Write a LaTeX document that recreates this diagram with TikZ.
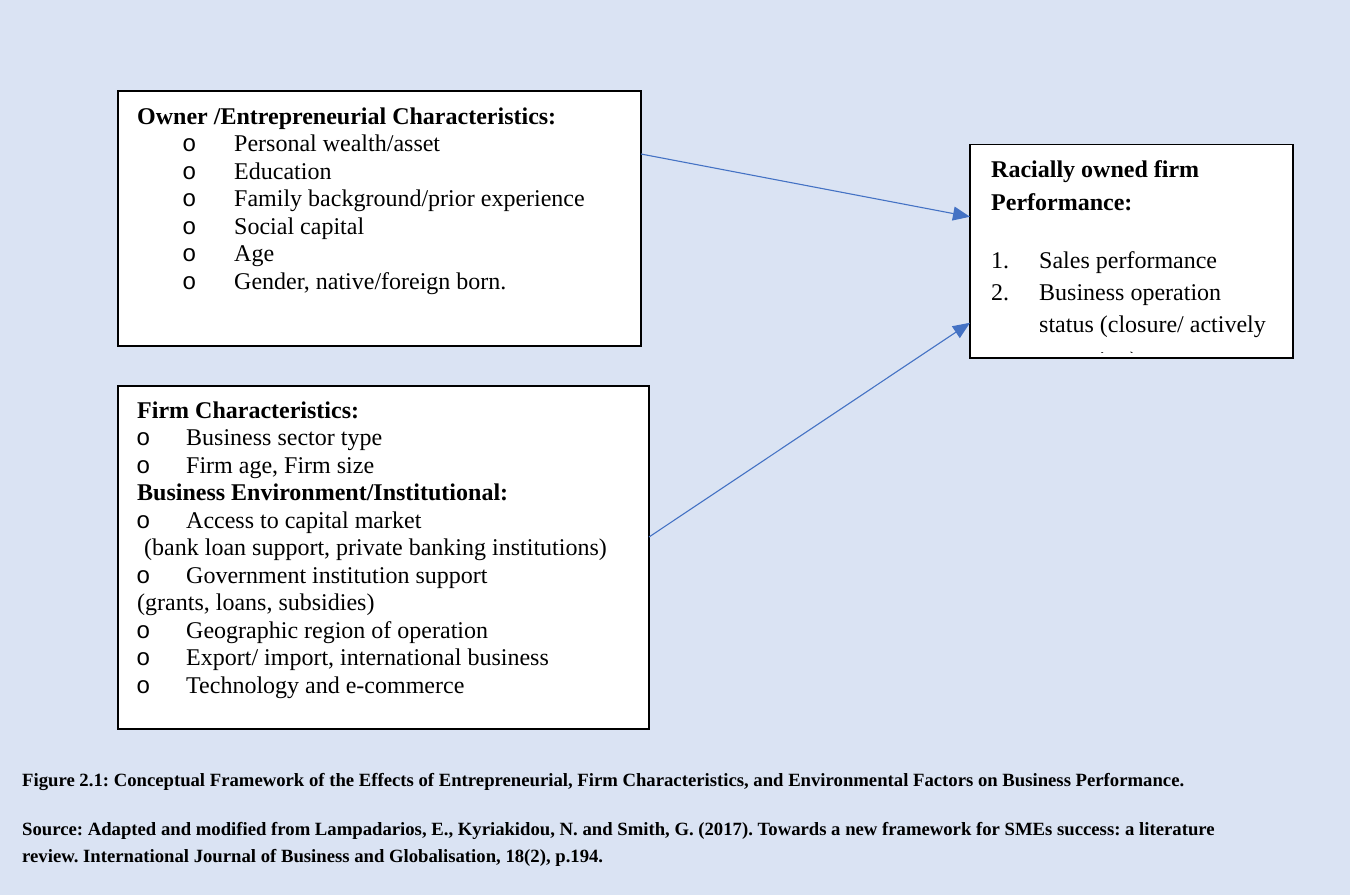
\documentclass[tikz,border=0pt]{standalone}
\usepackage{fontspec}
\setmainfont{Liberation Serif}
\newfontfamily\bulletfont{Liberation Mono}
\usetikzlibrary{arrows.meta}
\definecolor{bgblue}{HTML}{DAE3F3}
\definecolor{arrowblue}{HTML}{4472C4}
\frenchspacing
\begin{document}
\begin{tikzpicture}[x=1pt,y=-1pt,
  box/.style={draw=black, line width=1.2pt, fill=white, inner sep=0pt, outer sep=0pt, anchor=north west},
  txt/.style={anchor=base west, inner sep=0pt, font=\fontsize{24}{27.5}\selectfont},
  hd/.style={anchor=base west, inner sep=0pt, font=\fontsize{24}{27.5}\selectfont\bfseries},
  bul/.style={anchor=base west, inner sep=0pt, font=\fontsize{24}{27.5}\bulletfont},
  captxt/.style={anchor=base west, inner sep=0pt, font=\fontsize{18.7}{20}\selectfont\bfseries},
  conn/.style={draw=arrowblue, line width=1.1pt, -{Triangle[length=17pt,width=14pt]}}
]
\useasboundingbox (0,0) rectangle (1350,895);
\fill[bgblue] (0,0) rectangle (1350,895);

% boxes
\node[box, minimum width=523pt, minimum height=255pt] (b1) at (118,91) {};
\node[box, minimum width=531pt, minimum height=343pt] (b2) at (118,386) {};
\node[box, minimum width=323pt, minimum height=213.5pt] (b3) at (970,144.5) {};

% box 1 text
\node[hd] (h1) at (137,124.3) {Owner /Entrepreneurial Characteristics:};
\node[bul] (o11) at (182,151.8) {o};
\node[txt] (t11) at (234,151.8) {Personal wealth/asset};
\node[bul] (o12) at (182,179.3) {o};
\node[txt] (t12) at (234,179.3) {Education};
\node[bul] (o13) at (182,206.8) {o};
\node[txt] (t13) at (234,206.8) {Family background/prior experience};
\node[bul] (o14) at (182,234.3) {o};
\node[txt] (t14) at (234,234.3) {Social capital};
\node[bul] (o15) at (182,261.8) {o};
\node[txt] (t15) at (234,261.8) {Age};
\node[bul] (o16) at (182,289.3) {o};
\node[txt] (t16) at (234,289.3) {Gender, native/foreign born.};

% box 2 text
\node[hd] (h2) at (137,418.4) {Firm Characteristics:};
\node[bul] (o21) at (136,445.9) {o};
\node[txt] (t21) at (186,445.9) {Business sector type};
\node[bul] (o22) at (136,473.4) {o};
\node[txt] (t22) at (186,473.4) {Firm age, Firm size};
\node[hd] (h3) at (137,500.9) {Business Environment/Institutional:};
\node[bul] (o23) at (136,528.4) {o};
\node[txt] (t23) at (186,528.4) {Access to capital market};
\node[txt] (t24) at (144,555.9) {(bank loan support, private banking institutions)};
\node[bul] (o25) at (136,583.4) {o};
\node[txt] (t25) at (186,583.4) {Government institution support};
\node[txt] (t26) at (137,610.9) {(grants, loans, subsidies)};
\node[bul] (o27) at (136,638.4) {o};
\node[txt] (t27) at (186,638.4) {Geographic region of operation};
\node[bul] (o28) at (136,665.9) {o};
\node[txt] (t28) at (186,665.9) {Export/ import, international business};
\node[bul] (o29) at (136,693.4) {o};
\node[txt] (t29) at (186,693.4) {Technology and e-commerce};

% box 3 text
\node[hd] (h4) at (991,177.3) {Racially owned firm};
\node[hd] (h5) at (991,210) {Performance:};
\node[txt] (n31) at (991,268.3) {1.};
\node[txt] (t31) at (1039,268.3) {Sales performance};
\node[txt] (n32) at (991,300.3) {2.};
\node[txt] (t32) at (1039,300.3) {Business operation};
\node[txt] (t33) at (1039,332.3) {status (closure/ actively};
\begin{scope}
\clip (971,145) rectangle (1292,352);
\node[txt] (t34) at (1039,368) {operating)};
\end{scope}

% connectors
\draw[conn] ([yshift=64.5pt]b1.east) -- ([yshift=34.5pt]b3.west);
\draw[conn] ([yshift=20.5pt]b2.east) -- ([yshift=-71.5pt]b3.west);

% caption
\node[captxt] (c1) at (22,786.5) {Figure 2.1: Conceptual Framework of the Effects of Entrepreneurial, Firm Characteristics, and Environmental Factors on Business Performance.};
\node[captxt] (c2) at (22,835) {Source: Adapted and modified from Lampadarios, E., Kyriakidou, N. and Smith, G. (2017). Towards a new framework for SMEs success: a literature};
\node[captxt] (c3) at (22,862.5) {review. International Journal of Business and Globalisation, 18(2), p.194.};
\end{tikzpicture}
\end{document}
